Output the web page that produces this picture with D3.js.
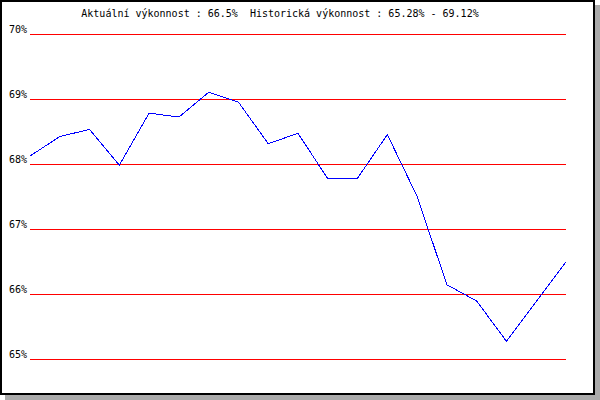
<!DOCTYPE html>
<html>
<head>
<meta charset="utf-8">
<script src="https://d3js.org/d3.v7.min.js"></script>
<style>
  body { margin: 0; background: #fff; }
  text { font-family: "DejaVu Sans Mono", monospace; font-size: 10px; fill: #000; }
</style>
</head>
<body>
<div id="chart"></div>
<script>
// performance values (one point per period)
var values = [68.13, 68.43, 68.54, 67.99, 68.79, 68.73, 69.11, 68.96, 68.32, 68.48,
              67.78, 67.79, 68.46, 67.51, 66.15, 65.90, 65.28, 65.89, 66.50];
var gridTicks = [65, 66, 67, 68, 69, 70];
var title = "Aktuální výkonnost : 66.5%  Historická výkonnost : 65.28% - 69.12%";

var width = 600, height = 400;

var svg = d3.select("#chart").append("svg")
    .attr("width", width)
    .attr("height", height);

// shadow + frame
svg.append("rect")
    .attr("x", 5).attr("y", 5)
    .attr("width", 595).attr("height", 395)
    .attr("fill", "#aaaaaa");
svg.append("rect")
    .attr("x", 1).attr("y", 1)
    .attr("width", 593).attr("height", 393)
    .attr("fill", "#fff")
    .attr("stroke", "#000")
    .attr("stroke-width", 2);

var x = d3.scaleLinear()
    .domain([0, values.length - 1])
    .range([30, 566]);

var y = d3.scaleLinear()
    .domain([65, 70])
    .range([359.5, 34.5]);

// grid lines
var grid = svg.append("g").attr("class", "grid");
grid.selectAll("line")
    .data(gridTicks)
    .enter().append("line")
    .attr("x1", x.range()[0])
    .attr("x2", x.range()[1])
    .attr("y1", function (d) { return y(d); })
    .attr("y2", function (d) { return y(d); })
    .attr("stroke", "#ff0000")
    .attr("stroke-width", 1)
    .attr("shape-rendering", "crispEdges");

grid.selectAll("text")
    .data(gridTicks)
    .enter().append("text")
    .attr("x", 27)
    .attr("y", function (d) { return y(d) - 1.5; })
    .attr("text-anchor", "end")
    .text(function (d) { return d + "%"; });

// the series
var line = d3.line()
    .x(function (d, i) { return x(i); })
    .y(function (d) { return y(d); });

svg.append("path")
    .datum(values)
    .attr("d", line)
    .attr("fill", "none")
    .attr("stroke", "#0000ff")
    .attr("stroke-width", 1)
    .attr("shape-rendering", "crispEdges");

svg.append("text")
    .attr("x", 280)
    .attr("y", 17)
    .attr("text-anchor", "middle")
    .attr("xml:space", "preserve")
    .style("white-space", "pre")
    .text(title);
</script>
</body>
</html>
